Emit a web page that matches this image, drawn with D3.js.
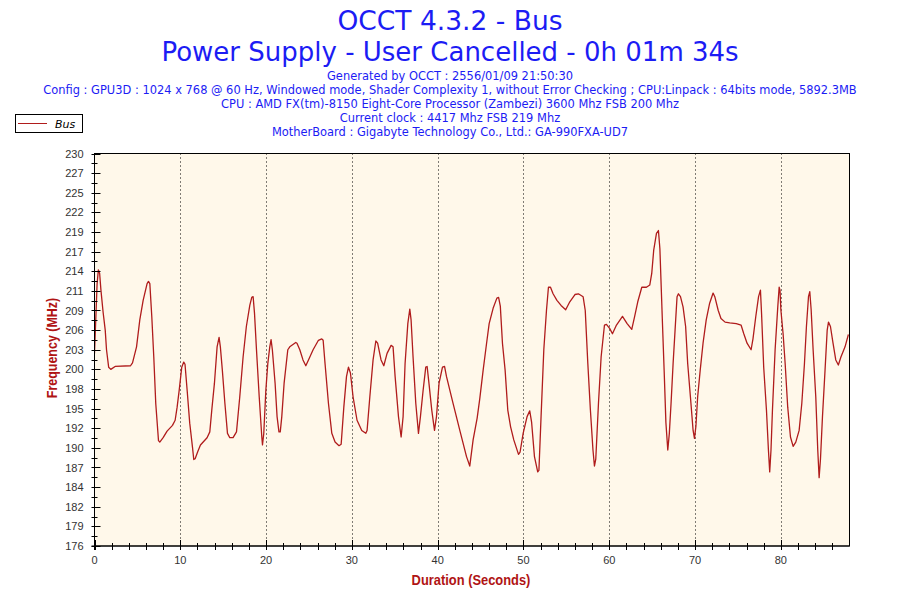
<!DOCTYPE html>
<html>
<head>
<meta charset="utf-8">
<script src="https://cdn.jsdelivr.net/npm/d3@7/dist/d3.min.js"></script>
<style>
  html, body { margin: 0; padding: 0; background: #ffffff; }
  svg { display: block; }
</style>
</head>
<body>
<svg id="chart" width="900" height="600"></svg>
<script>
// ---- Data ----
const titleLines = ["OCCT 4.3.2 - Bus", "Power Supply - User Cancelled - 0h 01m 34s"];
const infoLines = [
  "Generated by OCCT : 2556/01/09 21:50:30",
  "Config : GPU3D : 1024 x 768 @ 60 Hz, Windowed mode, Shader Complexity 1, without Error Checking ; CPU:Linpack : 64bits mode, 5892.3MB",
  "CPU : AMD FX(tm)-8150 Eight-Core Processor (Zambezi) 3600 Mhz FSB 200 Mhz",
  "Current clock : 4417 Mhz FSB 219 Mhz",
  "MotherBoard : Gigabyte Technology Co., Ltd.: GA-990FXA-UD7"
];
const seriesName = "Bus";
const xLabel = "Duration (Seconds)";
const yLabel = "Frequency (MHz)";
const xDomain = [0, 88];
const yDomain = [176, 230];
const xTickValues = [0, 10, 20, 30, 40, 50, 60, 70, 80];
const yTickValues = [176, 178.7, 181.4, 184.1, 186.8, 189.5, 192.2, 194.9, 197.6, 200.3, 203, 205.7, 208.4, 211.1, 213.8, 216.5, 219.2, 221.9, 224.6, 227.3, 230];
const yTickLabels = ["176", "179", "182", "184", "187", "190", "192", "195", "198", "200", "203", "206", "209", "211", "214", "217", "219", "222", "225", "227", "230"];

const times = [
  0.0, 0.3, 0.45, 0.6, 0.75, 1.0, 1.25, 1.4, 1.65, 1.9, 2.4, 4.2, 4.43, 4.9, 5.28, 5.67, 6.13, 6.29, 6.45, 6.68,
  6.91, 7.14, 7.46, 7.61, 8.0, 8.46, 9.09, 9.4, 9.63, 9.87, 10.17, 10.4, 10.55, 10.8, 11.1, 11.42, 11.57, 11.73, 12.04, 12.35,
  13.12, 13.44, 13.67, 13.98, 14.29, 14.52, 14.67, 14.9, 15.2, 15.5, 15.77, 16.15, 16.55, 16.93, 17.32, 17.7, 18.1, 18.33, 18.49, 18.65,
  18.88, 19.2, 19.5, 19.58, 19.73, 19.97, 20.2, 20.43, 20.58, 20.73, 21.05, 21.28, 21.5, 21.65, 21.83, 22.1, 22.53, 22.76, 23.46, 23.6,
  23.93, 24.3, 24.63, 24.94, 25.48, 26.1, 26.49, 26.65, 26.87, 27.27, 27.66, 28.04, 28.5, 28.75, 29.06, 29.37, 29.6, 29.83, 30.14, 30.6,
  31.15, 31.62, 31.77, 32.09, 32.47, 32.79, 33.0, 33.4, 33.72, 34.1, 34.57, 34.8, 35.04, 35.43, 35.74, 35.97, 36.2, 36.52, 36.75, 36.9,
  37.13, 37.45, 37.76, 37.99, 38.3, 38.61, 38.77, 39.0, 39.31, 39.63, 39.86, 40.16, 40.56, 40.8, 41.03, 41.8, 42.58, 43.36, 43.74, 44.13,
  44.6, 44.9, 45.3, 45.7, 46.0, 46.46, 46.9, 47.1, 47.3, 47.55, 47.86, 48.17, 48.5, 48.87, 49.42, 49.6, 49.96, 50.42, 50.73, 50.95,
  51.28, 51.66, 51.8, 52.05, 52.37, 52.68, 52.91, 53.15, 53.45, 53.9, 54.38, 54.92, 55.4, 56.0, 56.4, 56.95, 57.2, 57.5, 57.8, 58.1,
  58.27, 58.43, 58.74, 59.05, 59.44, 59.67, 60.06, 60.37, 60.84, 61.54, 62.08, 62.62, 62.94, 63.32, 63.79, 64.33, 64.72, 64.95, 65.18, 65.5,
  65.73, 65.9, 66.2, 66.4, 66.6, 66.82, 67.0, 67.2, 67.44, 67.67, 67.9, 68.06, 68.3, 68.6, 68.9, 69.14, 69.46, 69.77, 69.93, 70.1,
  70.3, 70.6, 70.93, 71.3, 71.7, 72.1, 72.3, 72.7, 73.02, 73.5, 74.04, 74.8, 75.36, 75.68, 76.06, 76.53, 76.75, 77.07, 77.4, 77.62,
  77.75, 78.0, 78.32, 78.55, 78.7, 78.85, 79.02, 79.33, 79.64, 79.8, 79.9, 80.0, 80.26, 80.5, 80.8, 81.12, 81.43, 81.74, 82.13, 82.44,
  82.75, 82.98, 83.22, 83.37, 83.53, 83.76, 84.07, 84.3, 84.46, 84.62, 84.85, 85.15, 85.4, 85.55, 85.78, 86.08, 86.4, 86.7, 87.0, 87.48,
  87.87
];
const busMHz = [
  202.5, 212, 214, 213.5, 211.2, 208.2, 205.7, 203, 200.6, 200.3, 200.7, 200.8, 201.2, 203.4, 207.1, 209.8, 212.1, 212.4, 212.1, 207.5,
  202, 195.6, 190.5, 190.3, 190.9, 191.8, 192.6, 193.3, 195.1, 197.4, 200.6, 201.3, 201, 197.4, 192.9, 189.6, 187.9, 188, 189, 189.9,
  190.9, 191.7, 194.7, 198.4, 203.4, 204.7, 203.4, 200.2, 195.6, 191.5, 190.9, 190.9, 191.7, 196.5, 202, 206.2, 209.1, 210.2, 210.3, 208,
  203, 196.5, 191, 189.9, 191.5, 197.4, 201.1, 203.4, 204.4, 203, 198.4, 193.8, 191.7, 191.7, 193.8, 198.4, 203, 203.4, 204, 203.9,
  203, 201.6, 200.8, 201.6, 203, 204.3, 204.5, 204.3, 201.1, 195.6, 191.5, 190.3, 189.8, 190, 195.1, 199.3, 200.6, 199.8, 196.5, 193.3,
  191.9, 191.5, 191.9, 196.5, 201.6, 204.2, 203.9, 201.6, 200.8, 202.5, 203.6, 203.4, 199.3, 193.8, 191, 193.8, 201.1, 206.6, 208.6, 207.1,
  202, 195.6, 191.5, 193.8, 197.4, 200.6, 200.7, 198.2, 194.7, 191.9, 193.8, 198.4, 200.6, 200.7, 199.3, 195.6, 191.9, 188.3, 187, 190.6,
  193.6, 196.2, 200.2, 203.9, 206.6, 208.7, 210.1, 210.2, 209, 203.9, 200.2, 194.7, 192.4, 190.6, 188.6, 188.9, 191.5, 193.8, 194.6, 193,
  188.3, 186.2, 186.4, 193.8, 203, 208.4, 211.6, 211.6, 210.7, 209.8, 209.1, 208.5, 209.6, 210.6, 210.7, 210.3, 208.4, 201.1, 194.7, 189.2,
  187, 188, 195.6, 202, 206.4, 206.5, 205.9, 205.2, 206.4, 207.6, 206.6, 205.8, 207.5, 209.6, 211.6, 211.6, 211.9, 213.5, 216.7, 219,
  219.4, 216.9, 206.6, 200, 193, 189.2, 191.5, 195.6, 201.1, 205.7, 210.3, 210.7, 210.3, 208.9, 206.2, 201.1, 196.5, 191.9, 190.8, 192.5,
  196.5, 200.2, 203.9, 207.1, 209.4, 210.8, 210.3, 208.4, 207.3, 206.8, 206.7, 206.6, 206.4, 205.2, 203.9, 203, 204.5, 207.5, 210.3, 211.2,
  208, 200.6, 194.7, 189.2, 186.2, 189.2, 194.7, 203, 208.9, 211.6, 211.2, 208.5, 205.2, 201.1, 195.1, 191, 189.7, 190.3, 191.9, 195.6,
  201.1, 206.2, 210.3, 211, 208.5, 203, 196.5, 189.2, 185.4, 188, 193.8, 200.2, 205.7, 206.8, 206.2, 203.9, 201.6, 200.9, 202, 203.4,
  205.1
];

// ---- Layout ----
const svg = d3.select("#chart");
const pLeft = 94.5, pRight = 849.5, pTop = 153.5, pBottom = 546;
const x = d3.scaleLinear().domain(xDomain).range([pLeft, pRight]);
const y = d3.scaleLinear().domain(yDomain).range([pBottom, pTop]);

const blue = "#1c1cf4";
const darkRed = "#b01414";
const lineRed = "#b01c1c";

svg.append("rect").attr("width", 900).attr("height", 600).attr("fill", "#ffffff");

// Titles
svg.append("text").attr("x", 450).attr("y", 30).attr("text-anchor", "middle")
  .attr("font-family", "DejaVu Sans, Verdana, sans-serif").attr("font-size", 26.5)
  .attr("fill", blue).text(titleLines[0]);
svg.append("text").attr("x", 450).attr("y", 61).attr("text-anchor", "middle")
  .attr("font-family", "DejaVu Sans, Verdana, sans-serif").attr("font-size", 26)
  .attr("fill", blue).text(titleLines[1]);
infoLines.forEach((t, i) => {
  svg.append("text").attr("x", 450).attr("y", 80 + i * 14).attr("text-anchor", "middle")
    .attr("font-family", "DejaVu Sans, Verdana, sans-serif").attr("font-size", 11.45)
    .attr("fill", blue).text(t);
});

// Legend
const lg = svg.append("g");
lg.append("rect").attr("x", 15.5).attr("y", 114.5).attr("width", 67).attr("height", 18)
  .attr("fill", "#ffffff").attr("stroke", "#000").attr("stroke-width", 1);
lg.append("line").attr("x1", 18).attr("x2", 47).attr("y1", 123.5).attr("y2", 123.5)
  .attr("stroke", lineRed).attr("stroke-width", 1);
lg.append("text").attr("x", 55).attr("y", 128).attr("font-family", "DejaVu Sans, Verdana, sans-serif")
  .attr("font-size", 11).attr("font-style", "italic").attr("fill", "#000").text(seriesName);

// Plot background
svg.append("rect").attr("x", pLeft).attr("y", pTop).attr("width", pRight - pLeft).attr("height", pBottom - pTop)
  .attr("fill", "#fff8ea");

// Vertical dotted grid
svg.append("g").selectAll("line").data(xTickValues.filter(v => v > 0)).join("line")
  .attr("x1", d => Math.round(x(d)) + 0.5).attr("x2", d => Math.round(x(d)) + 0.5)
  .attr("y1", pTop).attr("y2", pBottom)
  .attr("stroke", "#000").attr("stroke-width", 1).attr("stroke-dasharray", "1,3");

// Series line
svg.append("clipPath").attr("id", "plotclip").append("rect")
  .attr("x", pLeft).attr("y", pTop).attr("width", pRight - pLeft).attr("height", pBottom - pTop);
const pts = times.map((t, i) => [t, busMHz[i]]);
svg.append("path").datum(pts)
  .attr("clip-path", "url(#plotclip)")
  .attr("fill", "none").attr("stroke", lineRed).attr("stroke-width", 1.3)
  .attr("stroke-linejoin", "round")
  .attr("d", d3.line().x(d => x(d[0])).y(d => y(d[1])).curve(d3.curveLinear));

// Border (top and right)
svg.append("rect").attr("x", pLeft).attr("y", pTop).attr("width", pRight - pLeft).attr("height", pBottom - pTop)
  .attr("fill", "none").attr("stroke", "#000").attr("stroke-width", 1);

// Y axis
const yAxis = svg.append("g");
const yMinor = d3.range(yTickValues.length - 1).map(i => (yTickValues[i] + yTickValues[i + 1]) / 2);
yAxis.selectAll("line.major").data(yTickValues).join("line").attr("class", "major")
  .attr("x1", pLeft - 3).attr("x2", pLeft + 6)
  .attr("y1", d => Math.round(y(d)) + 0.5).attr("y2", d => Math.round(y(d)) + 0.5)
  .attr("stroke", "#000");
yAxis.selectAll("line.minor").data(yMinor).join("line").attr("class", "minor")
  .attr("x1", pLeft - 3).attr("x2", pLeft + 3)
  .attr("y1", d => Math.round(y(d)) + 0.5).attr("y2", d => Math.round(y(d)) + 0.5)
  .attr("stroke", "#000");
yAxis.selectAll("text").data(yTickValues).join("text")
  .attr("x", pLeft - 11).attr("y", d => y(d) + 4).attr("text-anchor", "end")
  .attr("font-family", "Liberation Sans, Arial, sans-serif").attr("font-size", 11)
  .attr("fill", "#333").text((d, i) => yTickLabels[i]);

// X axis
const xAxis = svg.append("g");
const xMinor = d3.range(2, 88, 2).filter(v => v % 10 !== 0);
xAxis.selectAll("line.major").data(xTickValues).join("line").attr("class", "major")
  .attr("x1", d => Math.round(x(d)) + 0.5).attr("x2", d => Math.round(x(d)) + 0.5)
  .attr("y1", pBottom - 6).attr("y2", pBottom + 4).attr("stroke", "#000");
xAxis.selectAll("line.minor").data(xMinor).join("line").attr("class", "minor")
  .attr("x1", d => Math.round(x(d)) + 0.5).attr("x2", d => Math.round(x(d)) + 0.5)
  .attr("y1", pBottom - 3).attr("y2", pBottom + 4).attr("stroke", "#000");
xAxis.selectAll("text").data(xTickValues).join("text")
  .attr("x", d => x(d)).attr("y", 564).attr("text-anchor", "middle")
  .attr("font-family", "Liberation Sans, Arial, sans-serif").attr("font-size", 11)
  .attr("fill", "#333").text(d => d);

// Axis lines
svg.append("line").attr("x1", pLeft).attr("x2", pLeft).attr("y1", pTop).attr("y2", pBottom + 4).attr("stroke", "#000");
svg.append("line").attr("x1", pLeft - 3).attr("x2", pRight).attr("y1", pBottom).attr("y2", pBottom).attr("stroke", "#000");

// Axis titles (condensed bold)
svg.append("text").attr("transform", "translate(471,585) scale(0.86,1)").attr("text-anchor", "middle")
  .attr("font-family", "Liberation Sans, Arial, sans-serif")
  .attr("font-weight", "bold").attr("font-size", 15).attr("fill", darkRed).text(xLabel);
svg.append("text").attr("transform", "translate(57,348) rotate(-90) scale(0.86,1)").attr("text-anchor", "middle")
  .attr("font-family", "Liberation Sans, Arial, sans-serif")
  .attr("font-weight", "bold").attr("font-size", 14.5).attr("fill", darkRed).text(yLabel);
</script>
</body>
</html>
